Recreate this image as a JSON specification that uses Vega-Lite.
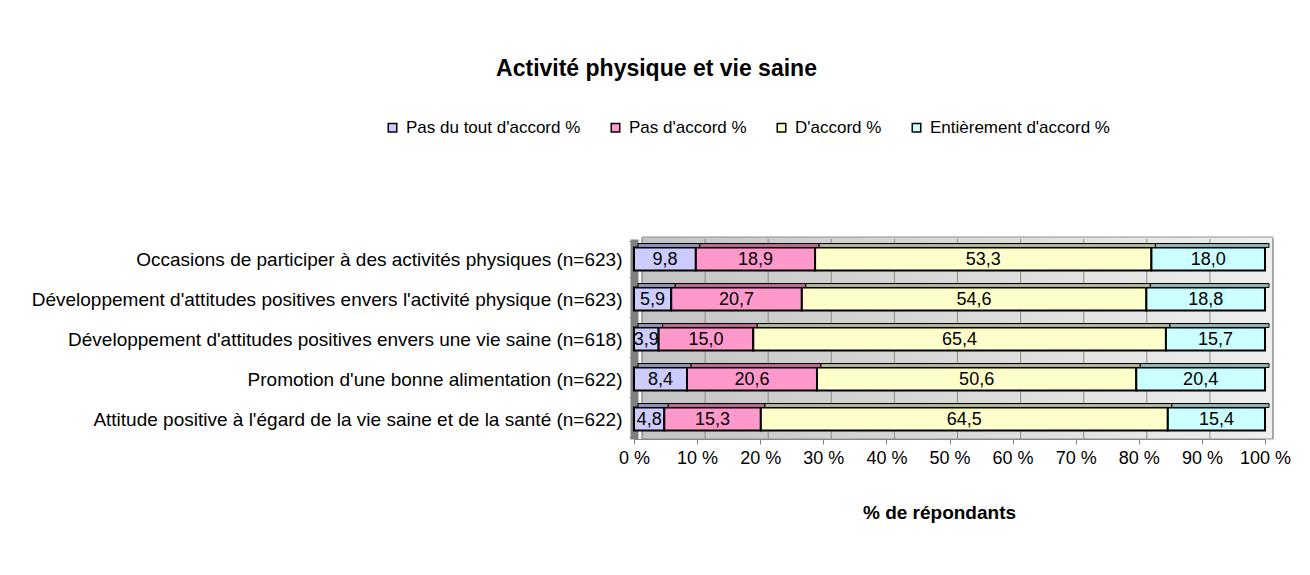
{
  "$schema": "https://vega.github.io/schema/vega-lite/v6.json",
  "width": 631,
  "height": 200,
  "autosize": {"type": "none"},
  "padding": {"left": 634, "top": 239, "right": 45, "bottom": 136},
  "background": "white",
  "title": {
    "text": "Activité physique et vie saine",
    "font": "Liberation Sans",
    "fontSize": 23,
    "fontWeight": "bold",
    "color": "black",
    "anchor": "middle",
    "frame": "group",
    "dx": -293,
    "offset": 38
  },
  "datasets": {
    "survey": [
      {"item": "Occasions de participer à des activités physiques (n=623)", "reponse": "Pas du tout d'accord %", "ordre": 1, "pct": 9.8},
      {"item": "Occasions de participer à des activités physiques (n=623)", "reponse": "Pas d'accord %", "ordre": 2, "pct": 18.9},
      {"item": "Occasions de participer à des activités physiques (n=623)", "reponse": "D'accord %", "ordre": 3, "pct": 53.3},
      {"item": "Occasions de participer à des activités physiques (n=623)", "reponse": "Entièrement d'accord %", "ordre": 4, "pct": 18.0},
      {"item": "Développement d'attitudes positives envers l'activité physique (n=623)", "reponse": "Pas du tout d'accord %", "ordre": 1, "pct": 5.9},
      {"item": "Développement d'attitudes positives envers l'activité physique (n=623)", "reponse": "Pas d'accord %", "ordre": 2, "pct": 20.7},
      {"item": "Développement d'attitudes positives envers l'activité physique (n=623)", "reponse": "D'accord %", "ordre": 3, "pct": 54.6},
      {"item": "Développement d'attitudes positives envers l'activité physique (n=623)", "reponse": "Entièrement d'accord %", "ordre": 4, "pct": 18.8},
      {"item": "Développement d'attitudes positives envers une vie saine (n=618)", "reponse": "Pas du tout d'accord %", "ordre": 1, "pct": 3.9},
      {"item": "Développement d'attitudes positives envers une vie saine (n=618)", "reponse": "Pas d'accord %", "ordre": 2, "pct": 15.0},
      {"item": "Développement d'attitudes positives envers une vie saine (n=618)", "reponse": "D'accord %", "ordre": 3, "pct": 65.4},
      {"item": "Développement d'attitudes positives envers une vie saine (n=618)", "reponse": "Entièrement d'accord %", "ordre": 4, "pct": 15.7},
      {"item": "Promotion d'une bonne alimentation (n=622)", "reponse": "Pas du tout d'accord %", "ordre": 1, "pct": 8.4},
      {"item": "Promotion d'une bonne alimentation (n=622)", "reponse": "Pas d'accord %", "ordre": 2, "pct": 20.6},
      {"item": "Promotion d'une bonne alimentation (n=622)", "reponse": "D'accord %", "ordre": 3, "pct": 50.6},
      {"item": "Promotion d'une bonne alimentation (n=622)", "reponse": "Entièrement d'accord %", "ordre": 4, "pct": 20.4},
      {"item": "Attitude positive à l'égard de la vie saine et de la santé (n=622)", "reponse": "Pas du tout d'accord %", "ordre": 1, "pct": 4.8},
      {"item": "Attitude positive à l'égard de la vie saine et de la santé (n=622)", "reponse": "Pas d'accord %", "ordre": 2, "pct": 15.3},
      {"item": "Attitude positive à l'égard de la vie saine et de la santé (n=622)", "reponse": "D'accord %", "ordre": 3, "pct": 64.5},
      {"item": "Attitude positive à l'égard de la vie saine et de la santé (n=622)", "reponse": "Entièrement d'accord %", "ordre": 4, "pct": 15.4}
    ],
    "grille": [
      {"g": 0}, {"g": 10}, {"g": 20}, {"g": 30}, {"g": 40}, {"g": 50},
      {"g": 60}, {"g": 70}, {"g": 80}, {"g": 90}, {"g": 100}
    ]
  },
  "layer": [
    {
      "data": {"values": [{}]},
      "mark": {
        "type": "rect",
        "xOffset": 8,
        "x2Offset": 8,
        "yOffset": -2,
        "y2Offset": -7,
        "color": {
          "gradient": "linear",
          "x1": 0, "y1": 0, "x2": 1, "y2": 0,
          "stops": [
            {"offset": 0, "color": "#c4c4c4"},
            {"offset": 1, "color": "#efefef"}
          ]
        },
        "stroke": "#909090",
        "strokeWidth": 1
      },
      "encoding": {
        "x": {"datum": 0, "type": "quantitative"},
        "x2": {"datum": 100}
      }
    },
    {
      "data": {"name": "grille"},
      "mark": {"type": "rule", "color": "#8c8c8c", "strokeWidth": 1, "xOffset": 8},
      "encoding": {
        "x": {"field": "g", "type": "quantitative"}
      }
    },
    {
      "data": {"name": "survey"},
      "mark": {"type": "bar", "height": 23, "stroke": "black", "strokeWidth": 2},
      "encoding": {
        "y": {
          "field": "item",
          "type": "nominal",
          "sort": null,
          "title": null,
          "axis": {
            "labelFont": "Liberation Sans",
            "labelFontSize": 19,
            "labelColor": "black",
            "labelPadding": 7,
            "labelLimit": 700,
            "domainColor": "#808080",
            "domainWidth": 8,
            "ticks": true,
            "tickBand": "extent",
            "tickSize": 5,
            "tickColor": "#808080"
          }
        },
        "x": {
          "field": "pct",
          "type": "quantitative",
          "stack": "zero",
          "scale": {"domain": [0, 100], "nice": false},
          "title": "% de répondants",
          "axis": {
            "values": [0, 10, 20, 30, 40, 50, 60, 70, 80, 90, 100],
            "labelExpr": "datum.value + ' %'",
            "labelFont": "Liberation Sans",
            "labelFontSize": 18,
            "labelColor": "black",
            "labelPadding": 5,
            "labelFlush": false,
            "grid": false,
            "domainColor": "#808080",
            "tickColor": "#808080",
            "tickSize": 5,
            "titleFont": "Liberation Sans",
            "titleFontSize": 19,
            "titleFontWeight": "bold",
            "titleColor": "black",
            "titlePadding": 36,
            "titleX": 305
          }
        },
        "order": {"field": "ordre"},
        "color": {
          "field": "reponse",
          "type": "nominal",
          "scale": {
            "domain": ["Pas du tout d'accord %", "Pas d'accord %", "D'accord %", "Entièrement d'accord %"],
            "range": ["#ccccff", "#ff99cc", "#ffffcc", "#ccffff"]
          },
          "legend": {
            "orient": "none",
            "legendX": -250,
            "legendY": -120,
            "direction": "horizontal",
            "title": null,
            "symbolType": "square",
            "symbolSize": 72,
            "symbolStrokeColor": "black",
            "symbolStrokeWidth": 1.5,
            "symbolOpacity": 1,
            "labelFont": "Liberation Sans",
            "labelFontSize": 17,
            "labelColor": "black",
            "labelLimit": 400,
            "labelOffset": 5,
            "columnPadding": 26
          }
        }
      }
    },
    {
      "data": {"name": "survey"},
      "mark": {"type": "bar", "height": 4, "yOffset": -13.5, "xOffset": 4, "color": "black"},
      "encoding": {
        "y": {"field": "item", "type": "nominal", "sort": null},
        "x": {"field": "pct", "type": "quantitative", "stack": "zero"},
        "order": {"field": "ordre"},
        "detail": {"field": "reponse"}
      }
    },
    {
      "data": {"name": "survey"},
      "mark": {"type": "bar", "height": 4, "yOffset": -13.5, "xOffset": 4, "fillOpacity": 0.7, "stroke": "black", "strokeWidth": 1},
      "encoding": {
        "y": {"field": "item", "type": "nominal", "sort": null},
        "x": {"field": "pct", "type": "quantitative", "stack": "zero"},
        "order": {"field": "ordre"},
        "color": {"field": "reponse", "type": "nominal"}
      }
    },
    {
      "data": {"name": "survey"},
      "mark": {"type": "text", "font": "Liberation Sans", "fontSize": 18, "color": "black", "baseline": "middle", "align": "center", "dy": 1},
      "encoding": {
        "y": {"field": "item", "type": "nominal", "sort": null},
        "x": {"field": "pct", "type": "quantitative", "stack": "zero", "bandPosition": 0.5},
        "order": {"field": "ordre"},
        "text": {"field": "pct", "type": "quantitative", "format": ".1f"}
      }
    }
  ],
  "config": {
    "locale": {
      "number": {"decimal": ",", "thousands": " ", "grouping": [3], "currency": ["", " €"]}
    },
    "view": {"stroke": null},
    "font": "Liberation Sans"
  }
}
